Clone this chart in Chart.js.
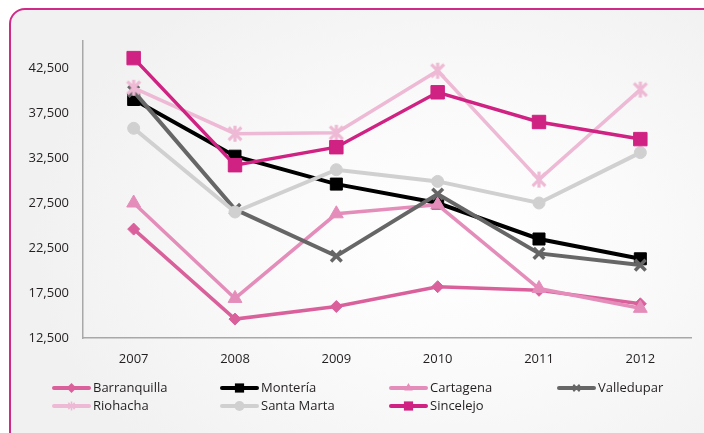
<!DOCTYPE html>
<html>
<head>
<meta charset="utf-8">
<script src="https://cdn.jsdelivr.net/npm/chart.js@4/dist/chart.umd.min.js"></script>
<style>
  html, body { margin: 0; padding: 0; background: #ffffff; overflow: hidden; }
  #wrap { position: relative; width: 704px; height: 433px; overflow: hidden; background: #ffffff; }
  #frame {
    position: absolute; left: 9px; top: 8px; width: 900px; height: 450px;
    border: 2px solid #d12a86; border-radius: 16px; box-sizing: border-box;
    background: radial-gradient(ellipse 420px 300px at 440px 230px, #ffffff 0%, #fafafa 45%, #f1f1f1 100%);
  }
  #c { position: absolute; left: 0; top: 0; }
</style>
</head>
<body>
<div id="wrap">
  <div id="frame"></div>
  <canvas id="c" width="704" height="433"></canvas>
</div>
<script>
const categories = ['2007', '2008', '2009', '2010', '2011', '2012'];
const yTicks = [12500, 17500, 22500, 27500, 32500, 37500, 42500];

const barranquilla = [24600, 14600, 16000, 18200, 17800, 16300];
const monteria     = [39000, 32700, 29600, 27500, 23500, 21300];
const cartagena    = [27500, 16900, 26300, 27300, 18000, 15800];
const valledupar   = [39900, 26800, 21600, 28500, 21900, 20600];
const riohacha     = [40300, 35200, 35300, 42200, 30100, 40100];
const santaMarta   = [35800, 26500, 31200, 29900, 27500, 33100];
const sincelejo    = [43600, 31700, 33700, 39800, 36500, 34600];

const seriesNames = ['Barranquilla', 'Montería', 'Cartagena', 'Valledupar', 'Riohacha', 'Santa Marta', 'Sincelejo'];
const seriesData = [barranquilla, monteria, cartagena, valledupar, riohacha, santaMarta, sincelejo];
const seriesColors = ['#d9609b', '#000000', '#e48dba', '#666666', '#eeb9d4', '#d0d0d0', '#cf2282'];
const seriesStyles = ['rectRot', 'rect', 'triangle', 'crossRot', 'asterisk', 'circle', 'rect'];
const seriesRadius = [6, 8.5, 8, 7.5, 8, 6, 9.5];
const seriesPointBorder = [1, 1, 1, 3.5, 3, 1, 1];
const seriesLineWidth = [3.5, 4, 3.5, 4, 3.5, 4, 3.5];

function asteriskCanvas(color, r, lw) {
  const s = Math.ceil(2 * r + lw + 2);
  const cv = document.createElement('canvas');
  cv.width = s; cv.height = s;
  const c = cv.getContext('2d');
  const x = s / 2, y = s / 2, d = r * 0.8;
  c.strokeStyle = color; c.lineWidth = lw;
  c.beginPath();
  c.moveTo(x - d, y - d); c.lineTo(x + d, y + d);
  c.moveTo(x - d, y + d); c.lineTo(x + d, y - d);
  c.moveTo(x, y - r); c.lineTo(x, y + r);
  c.stroke();
  return cv;
}

const n = seriesNames.length;
const datasets = seriesNames.map((name, i) => ({
  label: name,
  data: seriesData[i],
  borderColor: seriesColors[i],
  backgroundColor: seriesColors[i],
  pointBackgroundColor: seriesColors[i],
  pointBorderColor: seriesColors[i],
  pointStyle: seriesStyles[i] === 'asterisk' ? asteriskCanvas(seriesColors[i], seriesRadius[i], 3.2) : seriesStyles[i],
  pointRadius: seriesRadius[i],
  pointBorderWidth: seriesPointBorder[i],
  borderWidth: seriesLineWidth[i],
  tension: 0,
  fill: false,
  order: n - 1 - i
}));

const FONT = '"Open Sans", "Noto Sans", sans-serif';
const TEXT = '#231f20';

function drawMarker(ctx, style, x, y, r, color, bw) {
  ctx.save();
  ctx.fillStyle = color; ctx.strokeStyle = color; ctx.lineWidth = bw;
  ctx.beginPath();
  if (style === 'rect') {
    const s = r * Math.SQRT1_2;
    ctx.rect(x - s, y - s, 2 * s, 2 * s); ctx.fill();
  } else if (style === 'rectRot') {
    ctx.moveTo(x, y - r); ctx.lineTo(x + r, y); ctx.lineTo(x, y + r); ctx.lineTo(x - r, y); ctx.closePath(); ctx.fill();
  } else if (style === 'triangle') {
    let a = 0;
    ctx.moveTo(x + Math.sin(a) * r, y - Math.cos(a) * r);
    a += 2 * Math.PI / 3; ctx.lineTo(x + Math.sin(a) * r, y - Math.cos(a) * r);
    a += 2 * Math.PI / 3; ctx.lineTo(x + Math.sin(a) * r, y - Math.cos(a) * r);
    ctx.closePath(); ctx.fill();
  } else if (style === 'circle') {
    ctx.arc(x, y, r, 0, Math.PI * 2); ctx.fill();
  } else if (style === 'crossRot' || style === 'asterisk') {
    const d = r * Math.SQRT1_2;
    ctx.moveTo(x - d, y - d); ctx.lineTo(x + d, y + d);
    ctx.moveTo(x - d, y + d); ctx.lineTo(x + d, y - d);
    if (style === 'asterisk') { ctx.moveTo(x, y - r); ctx.lineTo(x, y + r); }
    ctx.stroke();
  }
  ctx.restore();
}

const gridLegend = {
  id: 'gridLegend',
  afterDraw(chart) {
    const ctx = chart.ctx;
    const colX = [53, 221, 390, 558];
    const rowY = [388, 406];
    chart.data.datasets.forEach((ds, i) => {
      const x0 = colX[i % 4];
      const y = rowY[Math.floor(i / 4)];
      ctx.save();
      ctx.strokeStyle = ds.borderColor;
      ctx.lineWidth = 4;
      ctx.lineCap = 'round';
      ctx.beginPath(); ctx.moveTo(x0 + 1, y); ctx.lineTo(x0 + 36, y); ctx.stroke();
      ctx.restore();
      const st = seriesStyles[i];
      const rr = st === 'rect' ? 6.5 : (st === 'crossRot' || st === 'asterisk') ? 4.5 : 5;
      drawMarker(ctx, st, x0 + 18.5, y, rr, ds.borderColor, st === 'crossRot' ? 2 : 1.5);
      ctx.save();
      ctx.fillStyle = TEXT;
      ctx.font = '13px ' + FONT;
      ctx.textBaseline = 'middle';
      ctx.textAlign = 'left';
      ctx.fillText(ds.label, x0 + 40, y);
      ctx.restore();
    });
  }
};

new Chart(document.getElementById('c'), {
  type: 'line',
  data: { labels: categories, datasets: datasets },
  options: {
    responsive: false,
    animation: false,
    devicePixelRatio: 1,
    layout: { padding: { left: 0, top: 41, right: 13, bottom: 0 } },
    plugins: { legend: { display: false }, tooltip: { enabled: false } },
    scales: {
      x: {
        offset: true,
        grid: { display: false, drawTicks: false },
        border: { display: true, color: '#a8a8a8', width: 1.5 },
        ticks: { color: TEXT, font: { family: FONT, size: 13 }, padding: 13, maxRotation: 0 },
        afterFit(scale) { scale.height = 95; }
      },
      y: {
        min: 12500,
        max: 45500,
        grid: { display: false, drawTicks: false },
        border: { display: true, color: '#a8a8a8', width: 1.5 },
        ticks: {
          color: TEXT, font: { family: FONT, size: 13 }, padding: 14,
          callback: v => Number(v).toLocaleString('en-US')
        },
        afterBuildTicks(scale) { scale.ticks = yTicks.map(v => ({ value: v })); },
        afterFit(scale) { scale.width = 83; }
      }
    }
  },
  plugins: [gridLegend]
});
</script>
</body>
</html>
